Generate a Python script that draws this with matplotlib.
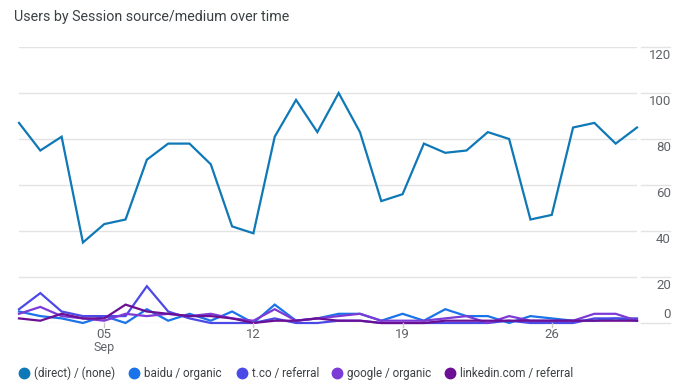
import matplotlib
matplotlib.use("Agg")
import matplotlib.pyplot as plt
import matplotlib.transforms as mtransforms
from matplotlib.lines import Line2D
import numpy as np

plt.rcParams['font.family'] = ['Roboto', 'DejaVu Sans']

days = list(range(1, 31))
series_names = ["(direct) / (none)", "baidu / organic", "t.co / referral",
                "google / organic", "linkedin.com / referral"]
colors = ["#0f78b6", "#1a73e8", "#4c4ae6", "#7c3ad6", "#6b0f94"]

direct = [87, 75, 81, 35, 43, 45, 71, 78, 78, 69, 42, 39, 81, 97, 83, 100, 83, 53,
          56, 78, 74, 75, 83, 80, 45, 47, 85, 87, 78, 85]
baidu = [5, 3, 2, 0, 3, 0, 6, 1, 4, 1, 5, 0, 8, 1, 2, 4, 4, 1, 4, 1, 6, 3, 3, 0,
         3, 2, 1, 1, 2, 1]
tco = [6, 13, 5, 3, 3, 3, 16, 5, 2, 0, 0, 0, 2, 0, 0, 1, 1, 0, 0, 0, 0, 0, 0, 1,
       0, 0, 0, 2, 2, 2]
google = [4, 7, 3, 2, 1, 4, 3, 4, 3, 4, 2, 1, 6, 1, 2, 3, 4, 1, 1, 1, 2, 3, 0, 3,
          1, 1, 1, 4, 4, 1]
linkedin = [2, 1, 4, 2, 2, 8, 5, 4, 3, 3, 2, 0, 1, 1, 2, 1, 1, 0, 0, 0, 1, 1, 1, 1,
            1, 1, 1, 1, 1, 1]

y_ticks = [0, 20, 40, 60, 80, 100, 120]
x_tick_days = [5, 12, 19, 26]
x_tick_labels = ["05", "12", "19", "26"]
month_label = "Sep"
title = "Users by Session source/medium over time"

W, H = 682, 390
fig = plt.figure(figsize=(W / 100, H / 100), dpi=100)
left, right = 19 / W, 637 / W
bottom, top = (H - 323) / H, (H - 47) / H
ax = fig.add_axes([left, bottom, right - left, top - bottom])
ax.set_xlim(1, 30)
ax.set_ylim(0, 120)
for s in ax.spines.values():
    s.set_visible(False)
ax.set_xticks([])
ax.set_yticks([])

grid_c = "#e3e3e3"
for v in y_ticks:
    ax.axhline(v, color=grid_c, lw=1.0, zorder=0)

# gridline segments in the label area on the right
blend = mtransforms.blended_transform_factory(fig.transFigure, ax.transData)
for v in y_ticks:
    ax.add_line(Line2D([641 / W, 670 / W], [v, v], transform=blend,
                       color=grid_c, lw=1.0, clip_on=False))
    off = 6 if v == 0 else -6
    ax.annotate(str(v), xy=(671 / W, v), xycoords=blend, xytext=(0, off),
                textcoords="offset points", ha="right", va="center",
                fontsize=9.5, color="#5f6368")

all_series = [direct, baidu, tco, google, linkedin]
for vals, c in zip(all_series, colors):
    ax.plot(days, vals, color=c, lw=1.6, clip_on=False, solid_joinstyle="miter")

# x ticks
blend_x = mtransforms.blended_transform_factory(ax.transData, ax.transAxes)
for d, lab in zip(x_tick_days, x_tick_labels):
    ax.add_line(Line2D([d, d], [0, -0.016], transform=blend_x, color="#c8c8c8",
                       lw=1.0, clip_on=False))
    ax.annotate(lab, xy=(d, 0), xycoords=blend_x, xytext=(0, -8.5),
                textcoords="offset points", ha="center", va="center",
                fontsize=9.5, color="#5f6368")
ax.annotate(month_label, xy=(x_tick_days[0], 0), xycoords=blend_x, xytext=(0, -18),
            textcoords="offset points", ha="center", va="center",
            fontsize=9, color="#5f6368")

fig.text(14 / W, 1 - 17 / H, title, fontsize=10.3, color="#3c4043",
         ha="left", va="center")

# legend
leg_x = [24, 134, 242, 337, 450]
leg_y = 1 - 373 / H
for xx, name, c in zip(leg_x, series_names, colors):
    fig.add_artist(Line2D([xx / W], [leg_y], marker="o", markersize=7.5,
                          color=c, transform=fig.transFigure, linestyle="none"))
    fig.text((xx + 10) / W, leg_y, name, fontsize=8.4, color="#3c4043",
             ha="left", va="center")

fig.savefig("out.png", dpi=100)
